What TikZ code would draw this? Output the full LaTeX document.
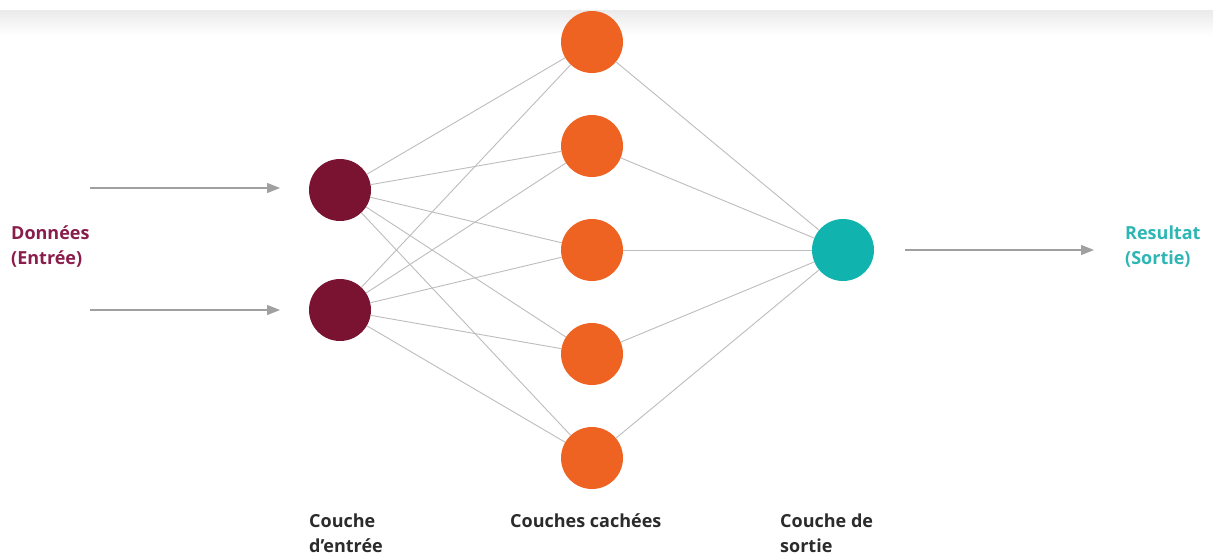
\documentclass[tikz,border=0pt]{standalone}
\usepackage{fontspec}
\setmainfont{Open Sans}
\usetikzlibrary{arrows.meta}
\definecolor{inred}{HTML}{7A1232}
\definecolor{hidor}{HTML}{EF6322}
\definecolor{outcy}{HTML}{10B3AE}
\definecolor{lblred}{HTML}{8A1D4C}
\definecolor{lblcy}{HTML}{2DB6B4}
\definecolor{edgegray}{HTML}{BDBDBD}
\definecolor{arrgray}{HTML}{A0A0A0}
\definecolor{txtdark}{HTML}{2B2B2B}
\tikzset{
  neuron/.style={circle, minimum size=62pt, inner sep=0pt, draw=none},
  inn/.style={neuron, fill=inred},
  hid/.style={neuron, fill=hidor},
  outn/.style={neuron, fill=outcy},
  edge/.style={draw=edgegray, line width=0.9pt},
  flow/.style={draw=arrgray, line width=1.3pt, -{Triangle[length=13pt,width=10pt]}},
  lbl/.style={font=\bfseries\fontsize{18}{25}\selectfont, align=left, anchor=north west, inner sep=0pt},
}
\begin{document}
\begin{tikzpicture}[x=1pt,y=-1pt]
\useasboundingbox (0,0) rectangle (1213,555);
\clip (0,0) rectangle (1213,555);
\fill[white] (0,0) rectangle (1213,555);
\shade[top color=black!8, bottom color=white] (0,10) rectangle (1213,36);
% nodes
\node[inn] (i1) at (340,190) {};
\node[inn] (i2) at (340,310) {};
\node[hid] (h1) at (592,42) {};
\node[hid] (h2) at (592,146) {};
\node[hid] (h3) at (592,250) {};
\node[hid] (h4) at (592,354) {};
\node[hid] (h5) at (592,458) {};
\node[outn] (o) at (843,250) {};
% edges
\foreach \i in {i1,i2}{
  \foreach \h in {h1,h2,h3,h4,h5}{
    \draw[edge] (\i) -- (\h);
  }
}
\foreach \h in {h1,h2,h3,h4,h5}{
  \draw[edge] (\h) -- (o);
}
% arrows
\coordinate (a1) at (90,188);
\coordinate (a2) at (90,310);
\coordinate (b1) at (280,188);
\coordinate (b2) at (280,310);
\coordinate (c1) at (905,250);
\coordinate (c2) at (1094,250);
\draw[flow] (a1) -- (b1);
\draw[flow] (a2) -- (b2);
\draw[flow] (c1) -- (c2);
% labels
\node[lbl, text=lblred] (ld) at (11,226) {Données\\(Entrée)};
\node[lbl, text=lblcy] (lr) at (1125,226) {Resultat\\(Sortie)};
\node[lbl, text=txtdark] (l1) at (309,514) {Couche\\d’entrée};
\node[lbl, text=txtdark] (l2) at (510,514) {Couches cachées};
\node[lbl, text=txtdark] (l3) at (780,514) {Couche de\\sortie};
\end{tikzpicture}
\end{document}
